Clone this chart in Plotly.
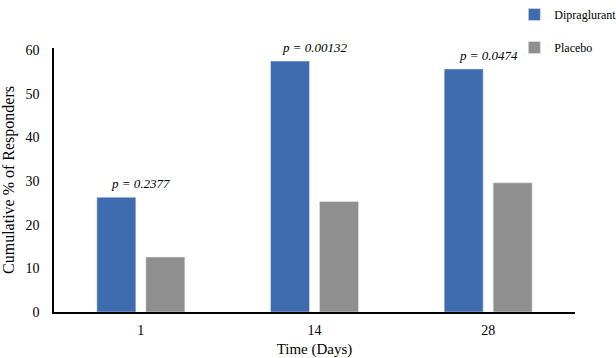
import plotly.graph_objects as go

days = ["1", "14", "28"]
dipraglurant = [26.3, 57.5, 55.7]
placebo = [12.6, 25.3, 29.6]
p_labels = ["p = 0.2377", "p = 0.00132", "p = 0.0474"]

font = "Liberation Serif"

fig = go.Figure()
fig.add_trace(go.Bar(x=days, y=dipraglurant, name="Dipraglurant",
                     marker=dict(color="#3F6CAF"), legendgroup="a"))
fig.add_trace(go.Bar(x=days, y=placebo, name="Placebo",
                     marker=dict(color="#8F8F8F"), legendgroup="b"))

for i, (v, t) in enumerate(zip(dipraglurant, p_labels)):
    fig.add_annotation(x=i, y=v, xref="x", yref="y", text="<i>" + t + "</i>",
                       showarrow=False, yanchor="bottom", yshift=4,
                       font=dict(family=font, size=13, color="black"))

fig.update_layout(
    width=616, height=358,
    margin=dict(l=54, r=41, t=48, b=46, autoexpand=False),
    paper_bgcolor="white", plot_bgcolor="white",
    barmode="group", bargap=0.436, bargroupgap=0.204,
    font=dict(family=font, size=14, color="black"),
    showlegend=True,
    legend=dict(xref="container", yref="container", x=0.835, xanchor="left",
                y=1.03, yanchor="top", bgcolor="rgba(0,0,0,0)",
                tracegroupgap=14,
                font=dict(family="Liberation Serif, serif", size=12, color="black"),
                itemwidth=30),
    xaxis=dict(type="category", range=[-0.5, 2.5], showline=True,
               linecolor="black", linewidth=1.5, automargin=False,
               ticks="", showgrid=False, ticklabelstandoff=4,
               tickfont=dict(family=font, size=14),
               title=dict(text="Time (Days)", standoff=8,
                          font=dict(family=font, size=15))),
    yaxis=dict(range=[0, 60.5], tickvals=[0, 10, 20, 30, 40, 50, 60],
               showline=True, linecolor="black", automargin=False,
               linewidth=1.5, ticks="", showgrid=False, zeroline=False,
               ticklabelstandoff=10, tickfont=dict(family=font, size=14),
               title=dict(text="Cumulative % of Responders", standoff=10,
                          font=dict(family=font, size=16))),
)

fig.write_html("out.html", config={"displayModeBar": False},
               post_script="document.body.style.margin='0';")
